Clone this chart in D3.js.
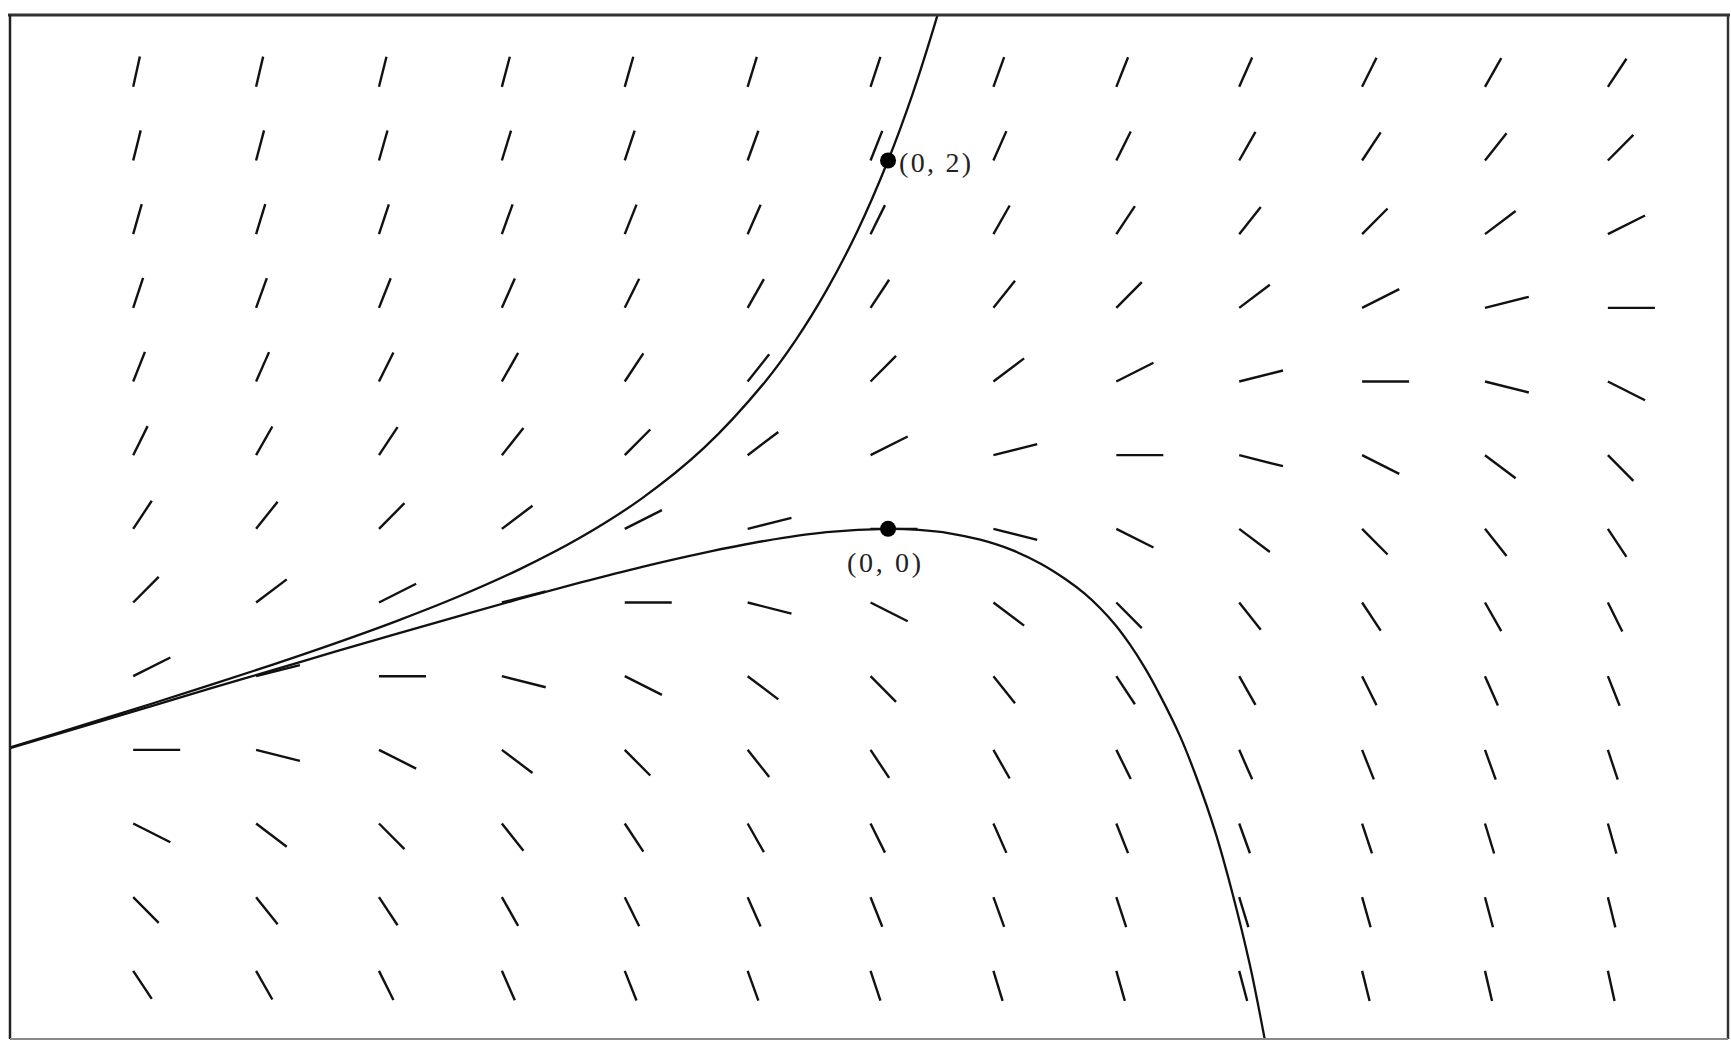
<!DOCTYPE html>
<html>
<head>
<meta charset="utf-8">
<script src="https://cdn.jsdelivr.net/npm/d3@7"></script>
<style>
  html, body { margin: 0; padding: 0; background: #ffffff; }
  svg { display: block; }
</style>
</head>
<body>
<svg id="chart" width="1731" height="1043"></svg>
<script>
// ---- data ----
const xDomain = [-1.429, 1.367];
const yDomain = [2.79, -2.77];

// slope-field grid positions (columns and rows)
const gridX = [-1.2285, -1.0285, -0.8285, -0.6285, -0.4285, -0.2285, -0.0285,
               0.1715, 0.3715, 0.5715, 0.7715, 0.9715, 1.1715];
const gridY = [2.4, 2.0, 1.6, 1.2, 0.8, 0.4, 0, -0.4, -0.8, -1.2, -1.6, -2.0, -2.4];

// slope dy/dx of each little segment, one row per gridY value
const slopes = [
  [15.12, 14.28, 13.44, 12.60, 11.76, 10.92, 10.08, 9.24, 8.40, 7.56, 6.72, 5.88, 5.04],
  [13.44, 12.60, 11.76, 10.92, 10.08, 9.24, 8.40, 7.56, 6.72, 5.88, 5.04, 4.20, 3.36],
  [11.76, 10.92, 10.08, 9.24, 8.40, 7.56, 6.72, 5.88, 5.04, 4.20, 3.36, 2.52, 1.68],
  [10.08, 9.24, 8.40, 7.56, 6.72, 5.88, 5.04, 4.20, 3.36, 2.52, 1.68, 0.84, 0.00],
  [8.40, 7.56, 6.72, 5.88, 5.04, 4.20, 3.36, 2.52, 1.68, 0.84, 0.00, -0.84, -1.68],
  [6.72, 5.88, 5.04, 4.20, 3.36, 2.52, 1.68, 0.84, 0.00, -0.84, -1.68, -2.52, -3.36],
  [5.04, 4.20, 3.36, 2.52, 1.68, 0.84, 0.00, -0.84, -1.68, -2.52, -3.36, -4.20, -5.04],
  [3.36, 2.52, 1.68, 0.84, 0.00, -0.84, -1.68, -2.52, -3.36, -4.20, -5.04, -5.88, -6.72],
  [1.68, 0.84, 0.00, -0.84, -1.68, -2.52, -3.36, -4.20, -5.04, -5.88, -6.72, -7.56, -8.40],
  [0.00, -0.84, -1.68, -2.52, -3.36, -4.20, -5.04, -5.88, -6.72, -7.56, -8.40, -9.24, -10.08],
  [-1.68, -2.52, -3.36, -4.20, -5.04, -5.88, -6.72, -7.56, -8.40, -9.24, -10.08, -10.92, -11.76],
  [-3.36, -4.20, -5.04, -5.88, -6.72, -7.56, -8.40, -9.24, -10.08, -10.92, -11.76, -12.60, -13.44],
  [-5.04, -5.88, -6.72, -7.56, -8.40, -9.24, -10.08, -10.92, -11.76, -12.60, -13.44, -14.28, -15.12]
];

// solution curve through (0, 2)
const upperCurve = [
  [-1.429, -1.187], [-1.3, -1.055], [-1.2, -0.951], [-1.1, -0.845],
  [-1.0, -0.736], [-0.9, -0.622], [-0.8, -0.501], [-0.7, -0.369],
  [-0.6, -0.220], [-0.5, -0.046], [-0.4, 0.167], [-0.3, 0.438],
  [-0.2, 0.799], [-0.15, 1.026], [-0.1, 1.296], [-0.05, 1.616],
  [0.0, 2.000], [0.04, 2.362], [0.08, 2.784], [0.1, 3.020]
];
// solution curve through (0, 0)
const lowerCurve = [
  [-1.429, -1.191], [-1.3, -1.063], [-1.2, -0.964], [-1.1, -0.864],
  [-1.0, -0.766], [-0.9, -0.667], [-0.8, -0.570], [-0.7, -0.475],
  [-0.6, -0.381], [-0.5, -0.291], [-0.4, -0.206], [-0.3, -0.130],
  [-0.2, -0.065], [-0.1, -0.018], [0.0, 0.000], [0.05, -0.006],
  [0.1, -0.024], [0.15, -0.059], [0.2, -0.113], [0.25, -0.192],
  [0.289, -0.274], [0.32, -0.352], [0.345, -0.430], [0.37, -0.522],
  [0.393, -0.625], [0.418, -0.755], [0.442, -0.900], [0.475, -1.124],
  [0.502, -1.350], [0.532, -1.640], [0.561, -1.985], [0.589, -2.370],
  [0.613, -2.770], [0.629, -3.060]
];

const points = [
  { x: 0, y: 2, label: "(0, 2)" },
  { x: 0, y: 0, label: "(0, 0)" }
];

// ---- drawing ----
const W = 1731, H = 1043;
const frame = { left: 10, top: 15, right: 1728, bottom: 1039 };
const svg = d3.select("#chart");

const xScale = d3.scaleLinear().domain(xDomain).range([frame.left, frame.right]);
const yScale = d3.scaleLinear().domain(yDomain).range([frame.top, frame.bottom]);

svg.append("rect").attr("width", W).attr("height", H).attr("fill", "#ffffff");

svg.append("defs").append("clipPath").attr("id", "plotClip")
  .append("rect")
  .attr("x", frame.left).attr("y", frame.top)
  .attr("width", frame.right - frame.left)
  .attr("height", frame.bottom - frame.top);

// slope marks: each starts at its grid point and runs to the right
const kx = xScale(1) - xScale(0);
const ky = yScale(0) - yScale(1);
const markLen = 47;
const squash = 0.65;
const marks = [];
gridY.forEach((gy, r) => {
  gridX.forEach((gx, c) => {
    const s = slopes[r][c];
    const P = s * ky / kx;
    const dx = markLen / Math.sqrt(1 + (P / squash) * (P / squash));
    const dy = P * dx;
    const x0 = xScale(gx), y0 = yScale(gy);
    marks.push({ x1: x0, y1: y0, x2: x0 + dx, y2: y0 - dy });
  });
});

svg.append("g").attr("class", "marks")
  .selectAll("line").data(marks).join("line")
  .attr("x1", d => d.x1).attr("y1", d => d.y1)
  .attr("x2", d => d.x2).attr("y2", d => d.y2)
  .attr("stroke", "#111").attr("stroke-width", 2.4)
  .attr("stroke-linecap", "butt");

// solution curves
const line = d3.line()
  .x(d => xScale(d[0]))
  .y(d => yScale(d[1]))
  .curve(d3.curveCatmullRom.alpha(0.5));

const curves = svg.append("g").attr("clip-path", "url(#plotClip)");
[upperCurve, lowerCurve].forEach(cv => {
  curves.append("path")
    .attr("d", line(cv))
    .attr("fill", "none")
    .attr("stroke", "#111")
    .attr("stroke-width", 2.3);
});

// points and labels
svg.append("g").selectAll("circle").data(points).join("circle")
  .attr("cx", d => xScale(d.x)).attr("cy", d => yScale(d.y))
  .attr("r", 8).attr("fill", "#000");

const lab = svg.append("g")
  .attr("font-family", "'Liberation Serif', 'DejaVu Serif', serif")
  .attr("font-size", 28).attr("fill", "#222");

lab.append("text")
  .attr("x", xScale(points[0].x) + 11)
  .attr("y", yScale(points[0].y) + 12)
  .attr("textLength", 72).attr("lengthAdjust", "spacing")
  .text(points[0].label);

lab.append("text")
  .attr("x", xScale(points[1].x) - 41)
  .attr("y", yScale(points[1].y) + 43)
  .attr("textLength", 74).attr("lengthAdjust", "spacing")
  .text(points[1].label);

// frame
const fr = svg.append("g").attr("fill", "none");
fr.append("line").attr("x1", frame.left - 2).attr("x2", frame.right + 2)
  .attr("y1", frame.top).attr("y2", frame.top)
  .attr("stroke", "#333").attr("stroke-width", 3);
fr.append("line").attr("x1", frame.left).attr("x2", frame.left)
  .attr("y1", frame.top).attr("y2", frame.bottom)
  .attr("stroke", "#222").attr("stroke-width", 2.5);
fr.append("line").attr("x1", frame.right).attr("x2", frame.right)
  .attr("y1", frame.top).attr("y2", frame.bottom)
  .attr("stroke", "#333").attr("stroke-width", 2.5);
fr.append("line").attr("x1", frame.left).attr("x2", frame.right)
  .attr("y1", frame.bottom).attr("y2", frame.bottom)
  .attr("stroke", "#888").attr("stroke-width", 2);
</script>
</body>
</html>
